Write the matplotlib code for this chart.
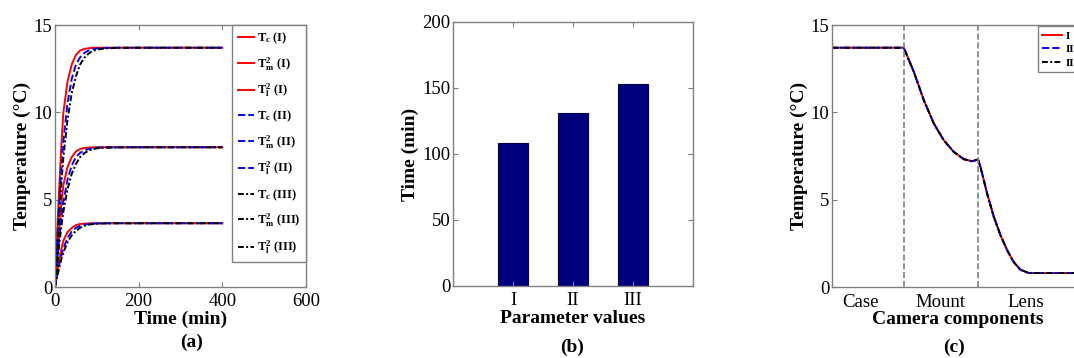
import matplotlib
matplotlib.use('Agg')
import matplotlib.pyplot as plt

plt.rcParams['font.family'] = ['Liberation Serif', 'DejaVu Serif']
plt.rcParams['mathtext.fontset'] = 'custom'
plt.rcParams['mathtext.rm'] = 'Liberation Serif'
plt.rcParams['mathtext.bf'] = 'Liberation Serif:bold'
plt.rcParams['mathtext.it'] = 'Liberation Serif:italic'

# (a) transient temperatures
time_min = [0, 5, 10, 15, 20, 30, 40, 50, 60, 70, 80, 90, 100, 120, 150, 200, 300, 400]
tc_I = [0, 3.01, 5.62, 8.08, 10.0, 11.78, 12.74, 13.29, 13.54, 13.63, 13.67, 13.7, 13.7, 13.7, 13.7, 13.7, 13.7, 13.7]
tc_II = [0, 2.47, 4.80, 6.71, 8.36, 10.55, 11.92, 12.74, 13.15, 13.40, 13.54, 13.62, 13.66, 13.69, 13.7, 13.7, 13.7, 13.7]
tc_III = [0, 2.06, 4.11, 5.89, 7.40, 9.59, 11.10, 12.06, 12.74, 13.12, 13.36, 13.51, 13.59, 13.66, 13.69, 13.7, 13.7, 13.7]
tm_I = [0, 1.76, 3.28, 4.72, 5.84, 6.88, 7.44, 7.76, 7.90, 7.96, 7.98, 8.0, 8.0, 8.0, 8.0, 8.0, 8.0, 8.0]
tm_II = [0, 1.44, 2.80, 3.92, 4.88, 6.16, 6.96, 7.44, 7.68, 7.82, 7.90, 7.95, 7.98, 7.99, 8.0, 8.0, 8.0, 8.0]
tm_III = [0, 1.20, 2.40, 3.44, 4.32, 5.60, 6.48, 7.04, 7.44, 7.66, 7.80, 7.89, 7.94, 7.98, 7.99, 8.0, 8.0, 8.0]
tl_I = [0, 0.80, 1.50, 2.15, 2.66, 3.14, 3.39, 3.54, 3.61, 3.63, 3.64, 3.65, 3.65, 3.65, 3.65, 3.65, 3.65, 3.65]
tl_II = [0, 0.66, 1.28, 1.79, 2.23, 2.81, 3.18, 3.39, 3.50, 3.57, 3.61, 3.63, 3.64, 3.65, 3.65, 3.65, 3.65, 3.65]
tl_III = [0, 0.55, 1.10, 1.57, 1.97, 2.56, 2.96, 3.21, 3.39, 3.50, 3.56, 3.60, 3.62, 3.64, 3.65, 3.65, 3.65, 3.65]

# (b) time to steady state
params = ['I', 'II', 'III']
steady_time = [108, 131, 153]

# (c) temperature along the camera
pos = [0, 10, 20, 30, 34.2, 38.4, 42.6, 46.7, 50.9, 55.1, 58.6, 61.1,
       62.1, 64.9, 67.7, 70.5, 73.3, 76.0, 78.8, 82.3, 90, 105]
temp_I = [13.7, 13.7, 13.7, 13.7, 12.33, 10.7, 9.36, 8.41, 7.74, 7.32, 7.2, 7.3,
          6.88, 5.35, 4.01, 2.96, 2.1, 1.43, 0.99, 0.8, 0.8, 0.8]
temp_II = temp_I
temp_III = temp_I
boundaries = [30, 61]
comp_names = ['Case', 'Mount', 'Lens']
comp_pos = [12, 45.5, 81]

red = dict(color='red', ls='-', lw=1.4)
blue = dict(color='blue', ls='--', lw=1.4)
black = dict(color='black', ls=(0, (3, 1.2, 1, 1.2)), lw=1.4)

TICK = 13.5
LAB = 14


def style_axes(ax):
    for s in ax.spines.values():
        s.set_color('0.5')
        s.set_linewidth(1.0)
    ax.tick_params(direction='in', top=True, right=True, length=3.5,
                   labelsize=TICK, color='0.5', pad=2)
    ax.tick_params(axis='x', pad=4)


fig = plt.figure(figsize=(10.74, 3.58), dpi=100)

# panel (a)
ax1 = fig.add_axes([55 / 1074, 71 / 358, 251 / 1074, 262 / 358])
ax1.plot(time_min, tc_I, label=r'$\mathbf{T_c}$ (I)', **red)
ax1.plot(time_min, tm_I, label=r'$\mathbf{T^2_m}$ (I)', **red)
ax1.plot(time_min, tl_I, label=r'$\mathbf{T^2_l}$ (I)', **red)
ax1.plot(time_min, tc_II, label=r'$\mathbf{T_c}$ (II)', **blue)
ax1.plot(time_min, tm_II, label=r'$\mathbf{T^2_m}$ (II)', **blue)
ax1.plot(time_min, tl_II, label=r'$\mathbf{T^2_l}$ (II)', **blue)
ax1.plot(time_min, tc_III, label=r'$\mathbf{T_c}$ (III)', **black)
ax1.plot(time_min, tm_III, label=r'$\mathbf{T^2_m}$ (III)', **black)
ax1.plot(time_min, tl_III, label=r'$\mathbf{T^2_l}$ (III)', **black)
ax1.set_xlim(0, 600)
ax1.set_ylim(0, 15)
ax1.set_xticks([0, 200, 400, 600])
ax1.set_yticks([0, 5, 10, 15])
style_axes(ax1)
ax1.set_xlabel('Time (min)', fontsize=LAB, fontweight='bold', labelpad=1)
ax1.set_ylabel('Temperature (°C)', fontsize=LAB, fontweight='bold', labelpad=2)
leg = ax1.legend(loc='upper right', bbox_to_anchor=(1, 1), borderaxespad=0,
                 prop={'weight': 'bold', 'size': 9},
                 handlelength=1.3, handletextpad=0.2, labelspacing=0.72,
                 fancybox=False, framealpha=1, edgecolor='0.5',
                 borderpad=0.45)
leg.get_frame().set_linewidth(1.0)

# panel (b)
ax2 = fig.add_axes([453 / 1074, 72 / 358, 240 / 1074, 264 / 358])
ax2.bar([1, 2, 3], steady_time, width=0.5, color='#00007F', edgecolor='#00004a', lw=0.8)
ax2.set_xlim(0, 4)
ax2.set_ylim(0, 200)
ax2.set_xticks([1, 2, 3])
ax2.set_xticklabels(params)
ax2.set_yticks([0, 50, 100, 150, 200])
style_axes(ax2)
ax2.set_xlabel('Parameter values', fontsize=LAB, fontweight='bold', labelpad=1)
ax2.set_ylabel('Time (min)', fontsize=LAB, fontweight='bold', labelpad=2)

# panel (c)
ax3 = fig.add_axes([832 / 1074, 71 / 358, 251 / 1074, 262 / 358])
ax3.plot(pos, temp_I, label='I', **red)
ax3.plot(pos, temp_II, label='II', **blue)
ax3.plot(pos, temp_III, label='III', **black)
for b in boundaries:
    ax3.axvline(b, color='0.5', ls='--', lw=1.2)
ax3.set_xlim(0, 105)
ax3.set_ylim(0, 15)
ax3.set_yticks([0, 5, 10, 15])
ax3.set_xticks(comp_pos)
ax3.set_xticklabels(comp_names)
style_axes(ax3)
ax3.tick_params(axis='x', length=0, pad=5)
ax3.set_xlabel('Camera components', fontsize=LAB, fontweight='bold', labelpad=0)
ax3.set_ylabel('Temperature (°C)', fontsize=LAB, fontweight='bold', labelpad=2)
leg3 = ax3.legend(loc='upper right', bbox_to_anchor=(1, 0.995), borderaxespad=0,
                  prop={'weight': 'bold', 'size': 8},
                  handlelength=1.8, handletextpad=0.3, labelspacing=0.35,
                  fancybox=False, framealpha=1, edgecolor='0.5', borderpad=0.4)
leg3.get_frame().set_linewidth(1.0)

fig.text(192 / 1074, 1 - 342 / 358, '(a)', ha='center', va='center', fontsize=LAB, fontweight='bold')
fig.text(572 / 1074, 1 - 347 / 358, '(b)', ha='center', va='center', fontsize=LAB, fontweight='bold')
fig.text(954 / 1074, 1 - 347 / 358, '(c)', ha='center', va='center', fontsize=LAB, fontweight='bold')

fig.savefig('out.png', dpi=100)
